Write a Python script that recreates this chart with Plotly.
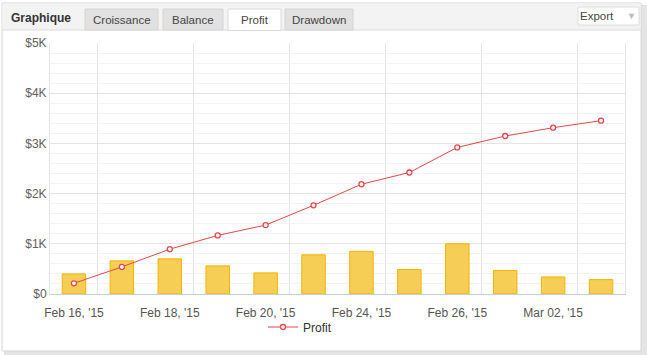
import plotly.graph_objects as go

# ---- data ----
categories = ["Feb 16, '15", "Feb 17, '15", "Feb 18, '15", "Feb 19, '15", "Feb 20, '15",
              "Feb 23, '15", "Feb 24, '15", "Feb 25, '15", "Feb 26, '15", "Feb 27, '15",
              "Mar 02, '15", "Mar 03, '15"]
bar_values = [400, 660, 700, 560, 420, 780, 850, 487, 1000, 467, 340, 287]
profit_values = [213, 540, 893, 1167, 1373, 1767, 2187, 2420, 2920, 3147, 3313, 3453]
y_tick_values = [0, 1000, 2000, 3000, 4000, 5000]
y_tick_labels = ["$0", "$1K", "$2K", "$3K", "$4K", "$5K"]
tab_labels = ["Croissance", "Balance", "Profit", "Drawdown"]

W, H = 647, 355
L, R, T, B = 50, 625, 43, 294

def fx(x):
    return (x - L) / (R - L)

def fy(y):
    return (B - y) / (B - T)

xs = list(range(len(categories)))
tick_idx = xs[::2]
tick_text = [categories[i] for i in tick_idx]
grid_idx = [i + 0.5 for i in tick_idx]

fig = go.Figure()
fig.add_trace(go.Bar(
    x=xs, y=bar_values, width=0.49, showlegend=False,
    marker=dict(color="#F6CE56", line=dict(color="#F0B400", width=1)),
    hoverinfo="y",
))
fig.add_trace(go.Scatter(
    x=xs, y=profit_values, mode="lines+markers", name="Profit",
    line=dict(color="#E8464A", width=1),
    marker=dict(symbol="circle", size=5, color="white",
                line=dict(color="#E8464A", width=1.3)),
))

shapes = []
def rect(x0, y0, x1, y1, fill, line=None, lw=1):
    shapes.append(dict(type="rect", xref="paper", yref="paper",
                       x0=fx(x0), x1=fx(x1), y0=fy(y1), y1=fy(y0),
                       fillcolor=fill, line=dict(color=line or fill, width=lw if line else 0),
                       layer="below"))

# shadow and panel
rect(4, 5, 647, 355, "#e4e4e4")
rect(2, 3, 641, 351, "#ffffff", "#d4d4d4")
# header
rect(2.5, 3.5, 640.5, 30, "#f3f3f3")
shapes.append(dict(type="line", xref="paper", yref="paper", x0=fx(2), x1=fx(641),
                   y0=fy(30), y1=fy(30), line=dict(color="#dadada", width=1), layer="below"))
# tabs
tab_boxes = [(85, 158), (163, 223), (228, 281), (285, 353)]
for (a, b), lab in zip(tab_boxes, tab_labels):
    if lab == "Profit":
        rect(a, 9, b, 30.5, "#ffffff", "#dadada")
    else:
        rect(a, 9, b, 30, "#e1e1e1", "#d4d4d4")
# export button
rect(578, 7, 639, 25, "#ffffff", "#dcdcdc")

annotations = []
def text(x, y, s, size=11, color="#444444", bold=False, family="Liberation Sans"):
    annotations.append(dict(xref="paper", yref="paper", x=fx(x), y=fy(y), text=f"<b>{s}</b>" if bold else s,
                            showarrow=False, xanchor="center", yanchor="middle",
                            font=dict(size=size, color=color, family=family)))

text(41, 18, "Graphique", size=12, color="#333333", bold=True)
for (a, b), lab in zip(tab_boxes, tab_labels):
    text((a + b) / 2, 20, lab, size=11.5, color="#444444")
text(597, 16, "Export", size=11.5, color="#444444")
text(631, 16, "▼", size=9, color="#bbbbbb")

fig.update_layout(
    width=W, height=H,
    margin=dict(l=L, r=W - R, t=T, b=H - B),
    paper_bgcolor="white", plot_bgcolor="rgba(0,0,0,0)",
    shapes=shapes, annotations=annotations,
    bargap=0.5,
    showlegend=True,
    legend=dict(orientation="h", x=fx(300), xanchor="center", y=fy(327), yanchor="middle",
                font=dict(size=12, color="#333333", family="Liberation Sans"),
                bgcolor="rgba(0,0,0,0)", itemwidth=30),
    xaxis=dict(range=[-0.5, len(categories) - 0.5], tickvals=tick_idx, ticktext=tick_text,
               showgrid=False, ticks="", showline=True, linecolor="#C0D0E0", linewidth=1,
               ticklabelstandoff=8,
               tickfont=dict(size=12, color="#555555", family="Liberation Sans"),
               minor=dict(tickvals=grid_idx, showgrid=True, gridcolor="#E6E6E6", gridwidth=1, ticks=""),
               zeroline=False, fixedrange=True),
    yaxis=dict(range=[0, 5000], tickvals=y_tick_values, ticktext=y_tick_labels,
               showgrid=True, gridcolor="#E4E4E4", gridwidth=1, zeroline=False,
               showline=True, mirror=True, linecolor="#E6E6E6", ticks="",
               tickfont=dict(size=12, color="#606060", family="Liberation Sans"),
               minor=dict(dtick=200, showgrid=True, gridcolor="#F3F3F3", gridwidth=1, ticks=""),
               fixedrange=True),
)

fig.write_html("out.html", config={"displayModeBar": False},
               post_script="document.body.style.margin='0';document.body.style.padding='0';")
